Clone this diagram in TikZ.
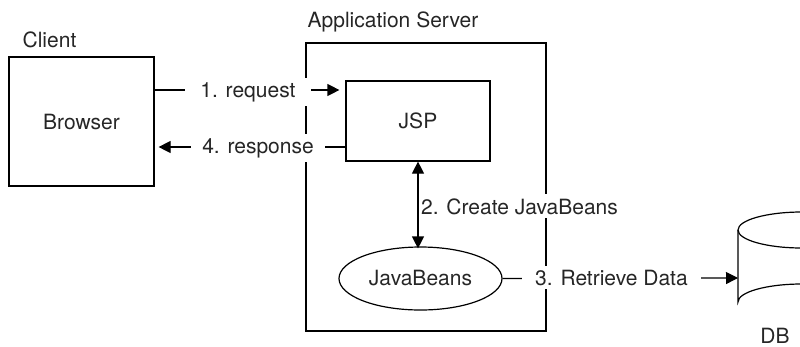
\documentclass[tikz,border=0pt]{standalone}
\usepackage{fontspec}
\setmainfont{TeX Gyre Heros}
\usetikzlibrary{arrows.meta,shapes.geometric}
\begin{document}
\begin{tikzpicture}[x=1pt,y=-1pt,
  every node/.style={font=\fontsize{21}{25}\selectfont, text=black!85},
  boxnode/.style={draw, line width=1.2pt, inner sep=0pt},
  lbl/.style={fill=white, inner ysep=4pt},
  conn/.style={line width=1.2pt},
  arr/.style={conn, -{Triangle[length=12pt,width=12pt]}},
  darr/.style={conn, {Triangle[length=12pt,width=12pt]}-{Triangle[length=12pt,width=12pt]}}]
\useasboundingbox (0,0) rectangle (800,346);
% boxes
\node[boxnode, minimum width=240pt, minimum height=288pt] (server) at (426,187) {};
\node[anchor=base] (servlbl) at (393,27) {Application Server};
\node[anchor=base] (clientlbl) at (49.5,47) {Client};
\node[boxnode, minimum width=145pt, minimum height=129pt] (browser) at (81.5,121.5) {Browser};
\node[boxnode, minimum width=144pt, minimum height=80pt] (jsp) at (418,121) {JSP};
\node[boxnode, ellipse, minimum width=163pt, minimum height=63pt] (beans) at (420.5,278.5) {JavaBeans};
% database cylinder
\coordinate (dbl) at (738,278);
\draw[conn] (738,230) -- (738,302) arc (180:360:64 and 18) -- (866,230);
\draw[conn] (802,230) ellipse (64 and 18);
\node[anchor=base] (db) at (775,343) {DB};
% level coordinates
\coordinate (reqy) at (0,90);
\coordinate (respy) at (0,147);
% connectors
\draw[arr] (browser.east |- reqy) -- ([xshift=-6pt]jsp.west |- reqy);
\draw[arr] (jsp.west |- respy) -- ([xshift=4pt]browser.east |- respy);
\draw[darr] (jsp.south) -- ([yshift=-2pt]jsp.south |- beans.north);
\draw[arr] (beans.east) -- (dbl);
% labels
\node[lbl, anchor=base, inner xsep=15pt] (req) at (248,97) {1. request};
\node[lbl, anchor=base, inner xsep=11pt] (resp) at (258,153) {4. response};
\node[lbl, anchor=base west, inner xsep=1pt] (create) at (420,214) {2. Create JavaBeans};
\node[lbl, anchor=base, inner xsep=13pt] (retr) at (611.5,285) {3. Retrieve Data};
\end{tikzpicture}
\end{document}
